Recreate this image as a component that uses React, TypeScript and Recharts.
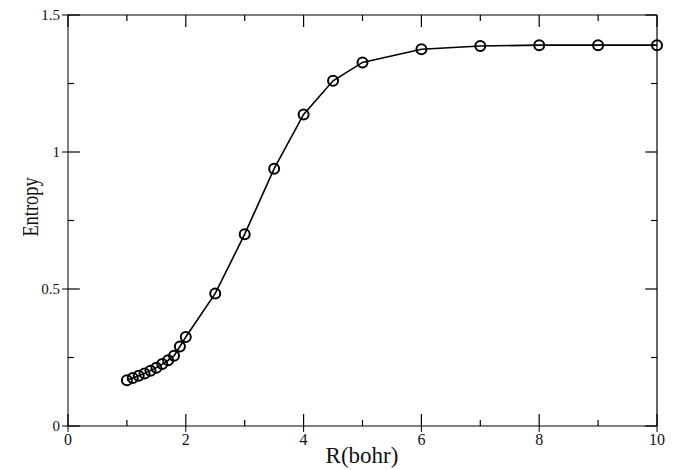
import React from 'react';
import { LineChart, Line, XAxis, YAxis, ReferenceLine, CartesianGrid } from 'recharts';

const rValues = [1.0, 1.1, 1.2, 1.3, 1.4, 1.5, 1.6, 1.7, 1.8, 1.9, 2.0, 2.5, 3.0, 3.5, 4.0, 4.5, 5.0, 6.0, 7.0, 8.0, 9.0, 10.0];
const entropyValues = [0.167, 0.175, 0.183, 0.192, 0.202, 0.213, 0.226, 0.24, 0.256, 0.29, 0.325, 0.484, 0.70, 0.939, 1.137, 1.26, 1.327, 1.375, 1.387, 1.39, 1.39, 1.39];

const xMajor = [0, 2, 4, 6, 8, 10];
const xMinor = [1, 3, 5, 7, 9];
const yMajor = [0, 0.5, 1, 1.5];
const yMinor = [0.25, 0.75, 1.25];

const data = rValues.map((r, i) => ({ r, s: entropyValues[i] }));

const FONT = '"Liberation Serif", "DejaVu Serif", serif';

// tick lengths in data units (about 12px major, 6px minor)
const X_MAJ = 0.2;
const X_MIN = 0.1;
const Y_MAJ = 0.044;
const Y_MIN = 0.022;

export default function App() {
  return (
    <div style={{ width: 679, height: 470, margin: '-8px 0 0 -8px' }}>
      <LineChart width={679} height={470} data={data} margin={{ top: 15, right: 22, bottom: 0, left: 0 }}>
        <CartesianGrid stroke="none" />
        <XAxis
          dataKey="r"
          type="number"
          domain={[0, 10]}
          ticks={xMajor}
          height={44}
          stroke="#000"
          tick={{ fill: '#111', fontSize: 16, fontFamily: FONT }}
        />
        <YAxis
          type="number"
          domain={[0, 1.5]}
          ticks={yMajor}
          width={68}
          stroke="#000"
          tick={{ fill: '#111', fontSize: 15, fontFamily: FONT }}
        />
        <ReferenceLine y={1.5} stroke="#000" strokeWidth={1.2} />
        <ReferenceLine x={10} stroke="#000" strokeWidth={1.2} />
        {xMajor.map((v) => (
          <ReferenceLine key={`bM${v}`} segment={[{ x: v, y: 0 }, { x: v, y: Y_MAJ }]} stroke="#000" strokeWidth={1.2} />
        ))}
        {xMinor.map((v) => (
          <ReferenceLine key={`bm${v}`} segment={[{ x: v, y: 0 }, { x: v, y: Y_MIN }]} stroke="#000" strokeWidth={1.2} />
        ))}
        {xMajor.map((v) => (
          <ReferenceLine key={`tM${v}`} segment={[{ x: v, y: 1.5 }, { x: v, y: 1.5 - Y_MAJ }]} stroke="#000" strokeWidth={1.2} />
        ))}
        {xMinor.map((v) => (
          <ReferenceLine key={`tm${v}`} segment={[{ x: v, y: 1.5 }, { x: v, y: 1.5 - Y_MIN }]} stroke="#000" strokeWidth={1.2} />
        ))}
        {yMajor.map((v) => (
          <ReferenceLine key={`lM${v}`} segment={[{ x: 0, y: v }, { x: X_MAJ, y: v }]} stroke="#000" strokeWidth={1.2} />
        ))}
        {yMinor.map((v) => (
          <ReferenceLine key={`lm${v}`} segment={[{ x: 0, y: v }, { x: X_MIN, y: v }]} stroke="#000" strokeWidth={1.2} />
        ))}
        {yMajor.map((v) => (
          <ReferenceLine key={`rM${v}`} segment={[{ x: 10, y: v }, { x: 10 - X_MAJ, y: v }]} stroke="#000" strokeWidth={1.2} />
        ))}
        {yMinor.map((v) => (
          <ReferenceLine key={`rm${v}`} segment={[{ x: 10, y: v }, { x: 10 - X_MIN, y: v }]} stroke="#000" strokeWidth={1.2} />
        ))}
        <Line
          type="linear"
          dataKey="s"
          stroke="#000"
          strokeWidth={1.6}
          dot={{ r: 5, fill: 'none', stroke: '#000', strokeWidth: 2 }}
          isAnimationActive={false}
        />
        <text x={362} y={463} textAnchor="middle" fontFamily={FONT} fontSize={23} fill="#111">
          R(bohr)
        </text>
        <text
          transform="translate(31,207) rotate(-90) scale(0.8,1)"
          x={0}
          y={0}
          dy={7}
          textAnchor="middle"
          fontFamily={FONT}
          fontSize={23}
          fill="#111"
        >
          Entropy
        </text>
      </LineChart>
    </div>
  );
}
